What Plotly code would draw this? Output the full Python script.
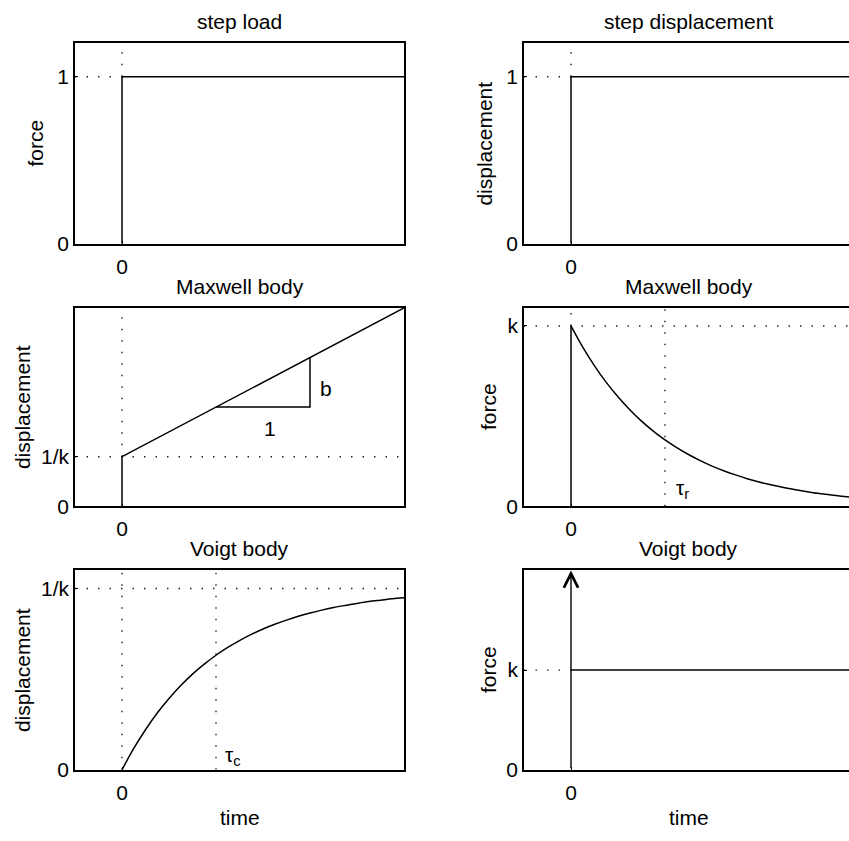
import plotly.graph_objects as go

# ---------------- data ----------------
# panel 1: step load (force vs time)
step_t = [0, 0, 6]
step_f = [0, 1, 1]
# panel 2: step displacement
stepd_t = [0, 0, 6]
stepd_d = [0, 1, 1]
# panel 3: Maxwell body creep (displacement vs time)
mx_creep_t = [0, 0, 6]
mx_creep_d = [0, 1, 4]
slope_tri_t = [2, 4, 4]
slope_tri_d = [2, 2, 3]
# panel 4: Maxwell body relaxation (force vs time)
mx_jump_t = [0, 0]
mx_jump_f = [0, 1]
curve_t = [0, 0.25, 0.5, 0.75, 1, 1.25, 1.5, 1.75, 2, 2.25, 2.5, 2.75, 3,
           3.25, 3.5, 3.75, 4, 4.25, 4.5, 4.75, 5, 5.25, 5.5, 5.75, 6]
mx_relax_f = [1.0, 0.882, 0.779, 0.687, 0.607, 0.535, 0.472, 0.417, 0.368, 0.325, 0.287, 0.253, 0.223,
              0.197, 0.174, 0.153, 0.135, 0.119, 0.105, 0.093, 0.082, 0.072, 0.064, 0.056, 0.05]
# panel 5: Voigt body creep (displacement vs time)
vg_creep_d = [0.0, 0.118, 0.221, 0.313, 0.393, 0.465, 0.528, 0.583, 0.632, 0.675, 0.713, 0.747, 0.777,
              0.803, 0.826, 0.847, 0.865, 0.881, 0.895, 0.907, 0.918, 0.928, 0.936, 0.944, 0.95]
# panel 6: Voigt body relaxation (force vs time)
vg_relax_t = [0, 6]
vg_relax_f = [1, 1]
impulse_t = 0
impulse_top = 2

tau = 2          # time constant marker
unit = 1         # k or 1/k level

titles = ["step load", "step displacement", "Maxwell body", "Maxwell body", "Voigt body", "Voigt body"]
ylabels = ["force", "displacement", "displacement", "force", "displacement", "force"]
ytick_vals = [[0, 1], [0, 1], [0, 1], [0, 1], [0, 1], [0, 1]]
ytick_text = [["0", "1"], ["0", "1"], ["0", "1/k"], ["0", "k"], ["0", "1/k"], ["0", "k"]]
y_ranges = [[0, 1.2], [0, 1.2], [0, 4], [0, 1.1], [0, 1.1], [0, 2]]
xtick_vals = [0]
xtick_text = ["0"]

# ---------------- layout geometry ----------------
W, H = 849, 841
FONT = "Liberation Sans, Arial, Helvetica, sans-serif"
FS = 21
col_px = [(75, 404), (524, 849)]
row_px = [(44, 247), (312, 513), (578, 780)]
x_ranges = [[-1, 6], [-1, -1 + (849 - 524) / 47.0]]

fig = go.Figure()

LINE = dict(color="black", width=1.5)
DOT = dict(color="#222", width=1.4, dash="1.5px,10px")


def ax_name(i, kind):
    return kind if i == 0 else f"{kind}{i + 1}"


def add(i, x, y, line, shape="linear"):
    fig.add_trace(go.Scatter(x=x, y=y, mode="lines", line=dict(**line, shape=shape),
                             xaxis=ax_name(i, "x"), yaxis=ax_name(i, "y"),
                             showlegend=False, hoverinfo="skip"))


# panel 1
add(0, [0, 0], [unit, 1.2], DOT)
add(0, [-1, 0], [unit, unit], DOT)
add(0, step_t, step_f, LINE)
# panel 2
add(1, [0, 0], [unit, 1.2], DOT)
add(1, [-1, 0], [unit, unit], DOT)
add(1, stepd_t, stepd_d, LINE)
# panel 3
add(2, [0, 0], [unit, 4], DOT)
add(2, [-1, 6], [unit, unit], DOT)
add(2, mx_creep_t, mx_creep_d, LINE)
add(2, slope_tri_t, slope_tri_d, LINE)
# panel 4
add(3, [-1, 6], [unit, unit], DOT)
add(3, [0, 0], [unit, 1.1], DOT)
add(3, [tau, tau], [0, 1.1], DOT)
add(3, mx_jump_t, mx_jump_f, LINE)
add(3, curve_t, mx_relax_f, LINE, "spline")
# panel 5
add(4, [-1, 6], [unit, unit], DOT)
add(4, [0, 0], [0, 1.1], DOT)
add(4, [tau, tau], [0, 1.1], DOT)
add(4, curve_t, vg_creep_d, LINE, "spline")
# panel 6
add(5, [-1, 0], [unit, unit], DOT)
add(5, vg_relax_t, vg_relax_f, LINE)

layout = dict(width=W, height=H, margin=dict(l=0, r=0, t=0, b=0),
              paper_bgcolor="white", plot_bgcolor="white",
              font=dict(family=FONT, size=FS, color="black"), showlegend=False)

annotations = []
for i in range(6):
    r, c = divmod(i, 2)
    x0, x1 = col_px[c]
    y0, y1 = row_px[r]
    xa = ax_name(i, "xaxis")
    ya = ax_name(i, "yaxis")
    layout[xa] = dict(domain=[x0 / W, x1 / W], range=x_ranges[c], anchor=ax_name(i, "y"),
                      showline=True, linecolor="black", linewidth=1.5, mirror=True,
                      ticks="inside", ticklen=3, tickwidth=1.2, tickcolor="black",
                      tickvals=xtick_vals, ticktext=xtick_text, ticklabelstandoff=3,
                      showgrid=False, zeroline=False, fixedrange=True,
                      tickfont=dict(size=FS))
    layout[ya] = dict(domain=[1 - y1 / H, 1 - y0 / H], range=y_ranges[i], anchor=ax_name(i, "x"),
                      showline=True, linecolor="black", linewidth=1.5, mirror=(c == 0),
                      ticks="inside", ticklen=3, tickwidth=1.2, tickcolor="black",
                      tickvals=ytick_vals[i], ticktext=ytick_text[i],
                      showgrid=False, zeroline=False, fixedrange=True,
                      tickfont=dict(size=FS))
    cx = (x0 + 329 / 2) / W
    annotations.append(dict(text=titles[i], x=cx, y=1 - (y0 - 22) / H, xref="paper", yref="paper",
                            xanchor="center", yanchor="middle", showarrow=False, font=dict(size=FS)))
    wide = ytick_text[i][1] == "1/k"
    lab_x = (22 if wide else 36) if c == 0 else (485 if ylabels[i] == "displacement" else 488)
    annotations.append(dict(text=ylabels[i], x=lab_x / W, y=1 - ((y0 + y1) / 2) / H,
                            xref="paper", yref="paper", textangle=-90,
                            xanchor="center", yanchor="middle", showarrow=False, font=dict(size=FS)))
    if r == 2:
        annotations.append(dict(text="time", x=cx, y=1 - 828 / H, xref="paper", yref="paper",
                                xanchor="center", yanchor="middle", showarrow=False, font=dict(size=FS)))

# in-plot labels
annotations.append(dict(text="b", x=4.34, y=2.38, xref="x3", yref="y3", showarrow=False,
                        xanchor="center", yanchor="middle", font=dict(size=FS)))
annotations.append(dict(text="1", x=3.15, y=1.56, xref="x3", yref="y3", showarrow=False,
                        xanchor="center", yanchor="middle", font=dict(size=FS)))
annotations.append(dict(text="τ<sub>r</sub>", x=2.2, y=0.095, xref="x4", yref="y4", showarrow=False,
                        xanchor="left", yanchor="middle", font=dict(size=FS)))
annotations.append(dict(text="τ<sub>c</sub>", x=2.15, y=0.075, xref="x5", yref="y5", showarrow=False,
                        xanchor="left", yanchor="middle", font=dict(size=FS)))
# impulse arrow (Voigt body force)
annotations.append(dict(text="", x=impulse_t, y=impulse_top, ax=impulse_t, ay=0,
                        xref="x6", yref="y6", axref="x6", ayref="y6",
                        showarrow=True, arrowhead=5, arrowsize=2.0, arrowwidth=1.4,
                        arrowcolor="black"))

layout["annotations"] = annotations
fig.update_layout(**layout)
fig.write_html("out.html")
